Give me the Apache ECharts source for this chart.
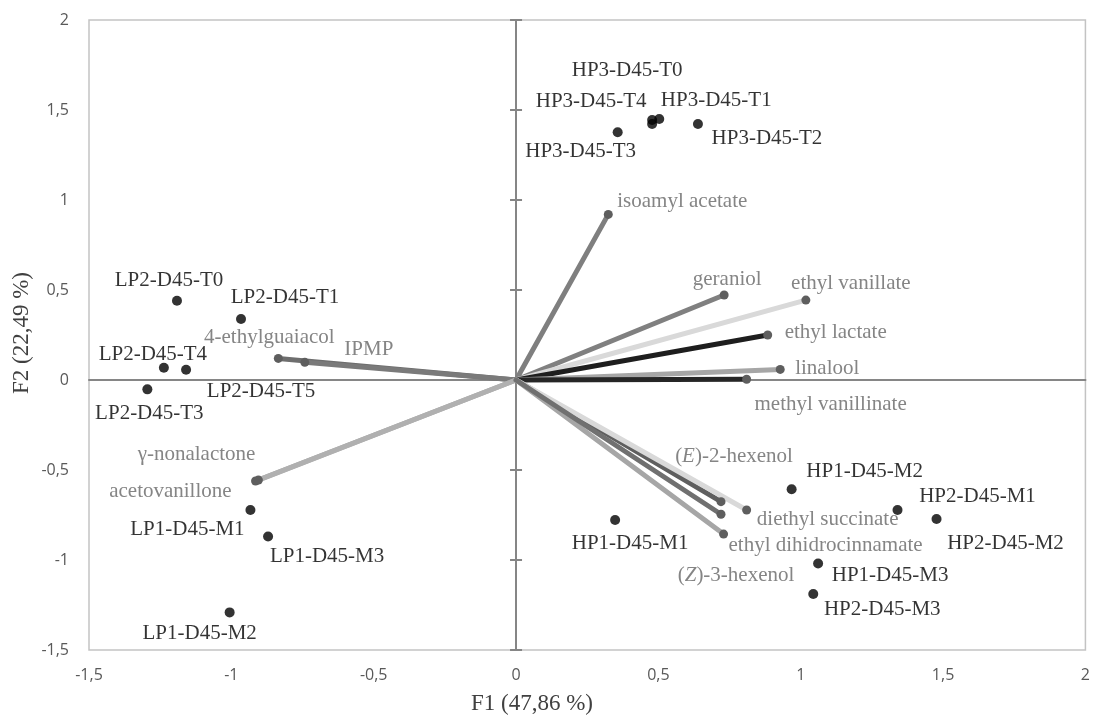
<!DOCTYPE html>
<html>
<head>
<meta charset="utf-8">
<script src="https://cdn.jsdelivr.net/npm/echarts@6/dist/echarts.min.js"></script>
<style>
  html, body { margin: 0; padding: 0; background: #ffffff; }
  #chart { width: 1093px; height: 717px; }
</style>
</head>
<body>
<div id="chart"></div>
<script>
// ---------------- DATA ----------------
const axisMin = -1.5;
const axisMax = 2;
const axisStep = 0.5;
const xTitle = 'F1 (47,86 %)';
const yTitle = 'F2 (22,49 %)';

// observations (samples)
const obsNames = ['HP3-D45-T0', 'HP3-D45-T1', 'HP3-D45-T4', 'HP3-D45-T3', 'HP3-D45-T2',
  'LP2-D45-T0', 'LP2-D45-T1', 'LP2-D45-T4', 'LP2-D45-T5', 'LP2-D45-T3',
  'LP1-D45-M1', 'LP1-D45-M3', 'LP1-D45-M2',
  'HP1-D45-M1', 'HP1-D45-M2', 'HP2-D45-M1', 'HP2-D45-M2', 'HP1-D45-M3', 'HP2-D45-M3'];
const obsX = [0.478, 0.503, 0.478, 0.357, 0.639,
  -1.191, -0.966, -1.237, -1.159, -1.295,
  -0.933, -0.871, -1.006,
  0.348, 0.968, 1.340, 1.477, 1.061, 1.044];
const obsY = [1.444, 1.450, 1.422, 1.376, 1.422,
  0.440, 0.339, 0.068, 0.057, -0.052,
  -0.722, -0.869, -1.291,
  -0.778, -0.607, -0.722, -0.772, -1.019, -1.189];

// variables (loading vectors)
const varNames = ['isoamyl acetate', 'geraniol', 'ethyl vanillate', 'ethyl lactate', 'linalool',
  'methyl vanillinate', '4-ethylguaiacol', 'IPMP', 'γ-nonalactone', 'acetovanillone',
  '(E)-2-hexenol', 'diethyl succinate', 'ethyl dihidrocinnamate', '(Z)-3-hexenol'];
const varX = [0.324, 0.731, 1.018, 0.884, 0.928, 0.810, -0.835, -0.742, -0.915, -0.905,
  0.720, 0.810, 0.729, 0.720];
const varY = [0.920, 0.472, 0.444, 0.250, 0.059, 0.004, 0.120, 0.098, -0.561, -0.556,
  -0.676, -0.722, -0.856, -0.746];

// ---------------- STYLE / LAYOUT ----------------
const varColors = ['#7f7f7f', '#808080', '#d9d9d9', '#1e1e1e', '#a6a6a6', '#262626', '#6e6e6e', '#7a7a7a',
  '#a9a9a9', '#b0b0b0', '#5f5f5f', '#d9d9d9', '#a6a6a6', '#707070'];
// label offsets (px) from the mark centre
const obsLabelOffsets = [[-25, -50], [57, -19], [-61, -23], [-37, 19], [69, 14],
  [-8, -20], [44, -21], [-11, -13], [75, 22], [2, 24],
  [-63, 20], [59, 20], [-30, 21],
  [15, 23], [73, -18], [80, -13], [69, 25], [72, 12], [69, 15]];
const varLabelOffsets = [[74, -13], [3, -16], [45, -17], [68, -3], [47, -1], [84, 25], [-9, -21], [64, -13],
  [-59, -26], [-88, 11], [13, -45], [81, 10], [102, 11], [15, 61]];

const serif = '"Liberation Serif", "Times New Roman", serif';
const sans = '"Open Sans", "Liberation Sans", sans-serif';
const labelSize = 21;

const fmt = v => String(v).replace('.', ',');

const series = [];
varNames.forEach((name, i) => {
  series.push({
    type: 'line',
    name: name,
    xAxisIndex: 0,
    yAxisIndex: 0,
    symbol: 'circle',
    symbolSize: 9,
    showSymbol: true,
    lineStyle: { color: varColors[i], width: 5, cap: 'round' },
    itemStyle: { color: '#5e5e5e' },
    emphasis: { disabled: true },
    z: 3,
    data: [
      { value: [0, 0], symbol: 'none', label: { show: false } },
      {
        value: [varX[i], varY[i]],
        label: {
          show: true,
          position: 'inside',
          offset: varLabelOffsets[i],
          align: 'center',
          verticalAlign: 'middle',
          fontFamily: serif,
          fontSize: labelSize,
          color: '#858585',
          formatter: () => name.replace('(E)', '({i|E})').replace('(Z)', '({i|Z})'),
          rich: { i: { fontFamily: serif, fontSize: labelSize, fontStyle: 'italic', color: '#858585' } }
        }
      }
    ]
  });
});

series.push({
  type: 'scatter',
  name: 'observations',
  xAxisIndex: 0,
  yAxisIndex: 0,
  symbol: 'circle',
  symbolSize: 10,
  itemStyle: { color: '#000000' },
  emphasis: { disabled: true },
  z: 4,
  data: obsNames.map((n, i) => ({
    name: n,
    value: [obsX[i], obsY[i]],
    label: {
      show: true,
      position: 'inside',
      offset: obsLabelOffsets[i],
      align: 'center',
      verticalAlign: 'middle',
      fontFamily: serif,
      fontSize: labelSize,
      color: '#000000',
      formatter: () => n
    }
  }))
});

const baseAxis = {
  type: 'value',
  min: axisMin,
  max: axisMax,
  interval: axisStep,
  splitLine: { show: false },
};

const option = {
  animation: false,
  backgroundColor: '#ffffff',
  grid: {
    left: 89, right: 7, top: 20, bottom: 67,
    show: true, borderColor: '#c3c3c3', borderWidth: 1.5, backgroundColor: 'transparent'
  },
  xAxis: [
    Object.assign({}, baseAxis, {
      position: 'bottom',
      axisLine: { show: false, onZero: false },
      axisTick: { show: false },
      axisLabel: { formatter: fmt, fontFamily: sans, fontSize: 16, color: '#595959', margin: 17 }
    }),
    Object.assign({}, baseAxis, {
      position: 'bottom',
      axisLine: { show: true, onZero: true, onZeroAxisIndex: 0, lineStyle: { color: '#868686', width: 2 } },
      axisTick: { show: false },
      axisLabel: { show: false }
    })
  ],
  yAxis: [
    Object.assign({}, baseAxis, {
      position: 'left',
      axisLine: { show: false, onZero: false },
      axisTick: { show: false },
      axisLabel: { formatter: fmt, fontFamily: sans, fontSize: 16, color: '#595959', margin: 20 }
    }),
    Object.assign({}, baseAxis, {
      position: 'left',
      axisLine: { show: true, onZero: true, onZeroAxisIndex: 0, lineStyle: { color: '#868686', width: 2 } },
      axisTick: { show: true, inside: false, length: 6, lineStyle: { color: '#868686', width: 2 } },
      axisLabel: { show: false }
    }),
    Object.assign({}, baseAxis, {
      position: 'left',
      axisLine: { show: false, onZero: true, onZeroAxisIndex: 0 },
      axisTick: { show: true, inside: true, length: 6, lineStyle: { color: '#868686', width: 2 } },
      axisLabel: { show: false }
    })
  ],
  graphic: [
    {
      type: 'text', x: 532, y: 704,
      style: { text: xTitle, font: '23px ' + serif, fill: '#404040', textAlign: 'center', textVerticalAlign: 'middle' }
    },
    {
      type: 'text', x: 22, y: 333, rotation: Math.PI / 2,
      style: { text: yTitle, font: '23px ' + serif, fill: '#404040', textAlign: 'center', textVerticalAlign: 'middle' }
    }
  ],
  series: series
};

const chart = echarts.init(document.getElementById('chart'), null, { renderer: 'canvas' });
chart.setOption(option);
</script>
</body>
</html>
